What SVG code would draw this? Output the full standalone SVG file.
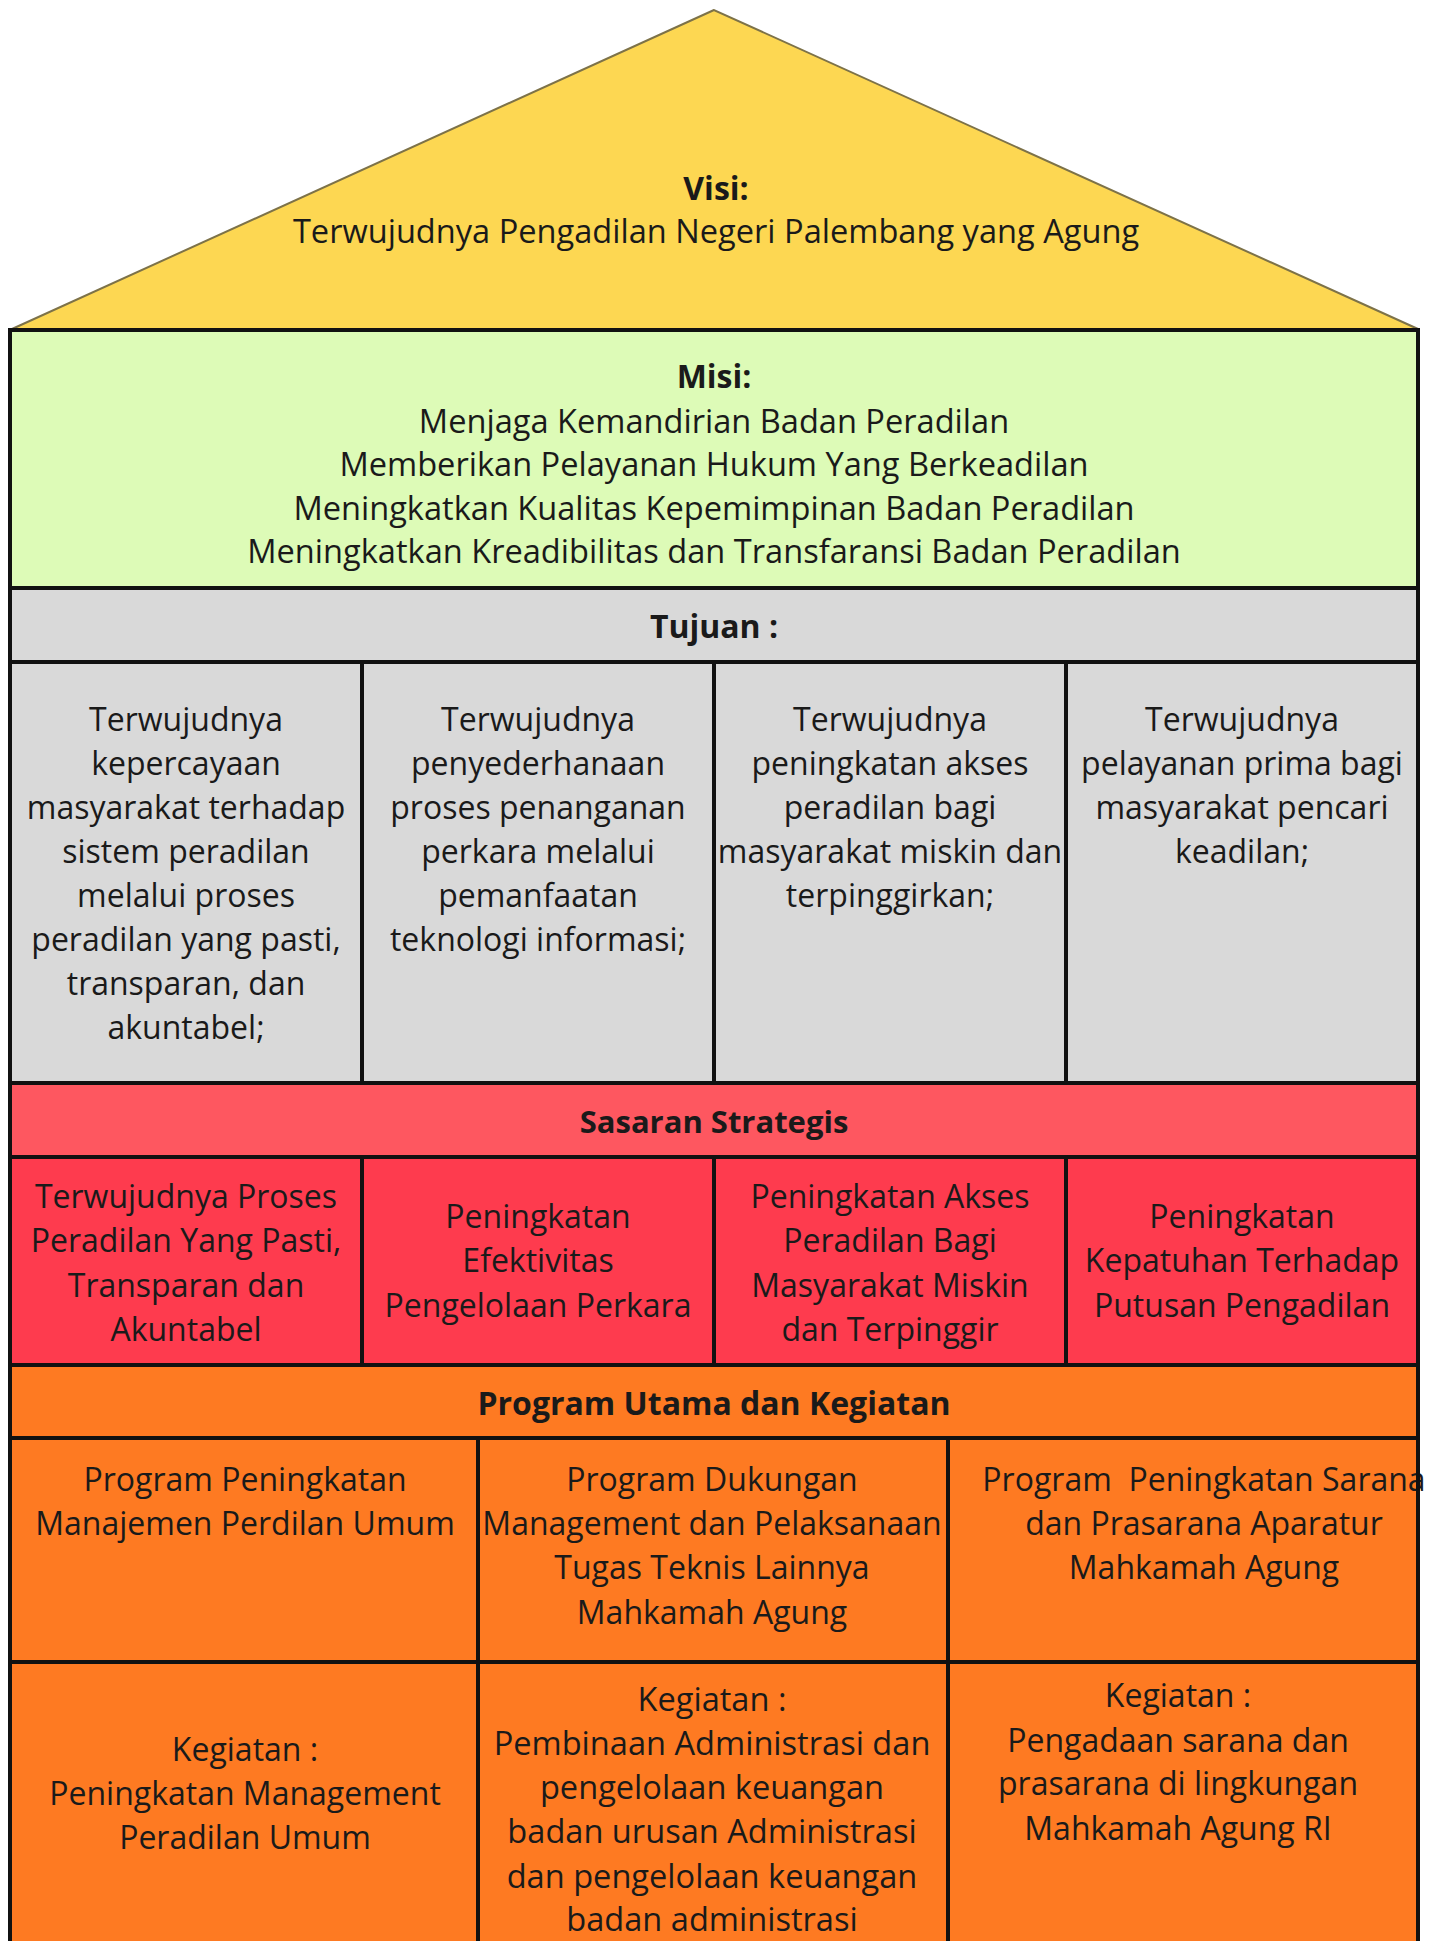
<svg xmlns="http://www.w3.org/2000/svg" width="1437" height="1941" viewBox="0 0 1437 1941">
<style>
text{font-family:"Open Sans","Noto Sans","Liberation Sans",sans-serif;font-size:32px;fill:#1a1a1a;text-anchor:middle}
.b{font-weight:700}
.w{font-size:32.6px}
.ln{stroke:#111;stroke-width:4;fill:none}
</style>
<rect x="0" y="0" width="1437" height="1941" fill="#ffffff"/>
<g id="visi">
<polygon points="714,10 12,329 1418,329" fill="#FDD752" stroke="#7d7248" stroke-width="2"/>
<text class="b" x="716" y="200">Visi:</text>
<text class="w" x="716" y="243">Terwujudnya Pengadilan Negeri Palembang yang Agung</text>
</g>
<g id="misi">
<rect x="10" y="330" width="1408" height="258" fill="#DDFBB7"/>
<text class="b" x="714" y="388">Misi:</text>
<text class="w" x="714" y="433">Menjaga Kemandirian Badan Peradilan</text>
<text class="w" x="714" y="476">Memberikan Pelayanan Hukum Yang Berkeadilan</text>
<text class="w" x="714" y="520">Meningkatkan Kualitas Kepemimpinan Badan Peradilan</text>
<text class="w" x="714" y="563">Meningkatkan Kreadibilitas dan Transfaransi Badan Peradilan</text>
</g>
<g id="tujuan-header">
<rect x="10" y="588" width="1408" height="74" fill="#D9D9D9"/>
<text class="b" x="714" y="638">Tujuan :</text>
</g>
<g id="tujuan-1">
<rect x="10" y="662" width="352" height="421" fill="#D9D9D9"/>
<text x="186" y="731">Terwujudnya</text>
<text x="186" y="775">kepercayaan</text>
<text x="186" y="819">masyarakat terhadap</text>
<text x="186" y="863">sistem peradilan</text>
<text x="186" y="907">melalui proses</text>
<text x="186" y="951">peradilan yang pasti,</text>
<text x="186" y="995">transparan, dan</text>
<text x="186" y="1039">akuntabel;</text>
</g>
<g id="tujuan-2">
<rect x="362" y="662" width="352" height="421" fill="#D9D9D9"/>
<text x="538" y="731">Terwujudnya</text>
<text x="538" y="775">penyederhanaan</text>
<text x="538" y="819">proses penanganan</text>
<text x="538" y="863">perkara melalui</text>
<text x="538" y="907">pemanfaatan</text>
<text x="538" y="951">teknologi informasi;</text>
</g>
<g id="tujuan-3">
<rect x="714" y="662" width="352" height="421" fill="#D9D9D9"/>
<text x="890" y="731">Terwujudnya</text>
<text x="890" y="775">peningkatan akses</text>
<text x="890" y="819">peradilan bagi</text>
<text x="890" y="863">masyarakat miskin dan</text>
<text x="890" y="907">terpinggirkan;</text>
</g>
<g id="tujuan-4">
<rect x="1066" y="662" width="352" height="421" fill="#D9D9D9"/>
<text x="1242" y="731">Terwujudnya</text>
<text x="1242" y="775">pelayanan prima bagi</text>
<text x="1242" y="819">masyarakat pencari</text>
<text x="1242" y="863">keadilan;</text>
</g>
<g id="sasaran-header">
<rect x="10" y="1083" width="1408" height="74" fill="#FE5760"/>
<text class="b" x="714" y="1133" style="font-size:31px">Sasaran Strategis</text>
</g>
<g id="sasaran-1">
<rect x="10" y="1157" width="352" height="208" fill="#FE3B4E"/>
<text x="186" y="1208">Terwujudnya Proses</text>
<text x="186" y="1252">Peradilan Yang Pasti,</text>
<text x="186" y="1297">Transparan dan</text>
<text x="186" y="1341">Akuntabel</text>
</g>
<g id="sasaran-2">
<rect x="362" y="1157" width="352" height="208" fill="#FE3B4E"/>
<text x="538" y="1228">Peningkatan</text>
<text x="538" y="1272">Efektivitas</text>
<text x="538" y="1317">Pengelolaan Perkara</text>
</g>
<g id="sasaran-3">
<rect x="714" y="1157" width="352" height="208" fill="#FE3B4E"/>
<text x="890" y="1208">Peningkatan Akses</text>
<text x="890" y="1252">Peradilan Bagi</text>
<text x="890" y="1297">Masyarakat Miskin</text>
<text x="890" y="1341">dan Terpinggir</text>
</g>
<g id="sasaran-4">
<rect x="1066" y="1157" width="352" height="208" fill="#FE3B4E"/>
<text x="1242" y="1228">Peningkatan</text>
<text x="1242" y="1272">Kepatuhan Terhadap</text>
<text x="1242" y="1317">Putusan Pengadilan</text>
</g>
<g id="program-header">
<rect x="10" y="1365" width="1408" height="73" fill="#FE7A22"/>
<text class="b" x="714" y="1415">Program Utama dan Kegiatan</text>
</g>
<g id="program-1">
<rect x="10" y="1438" width="468" height="224" fill="#FE7A22"/>
<text x="245" y="1491">Program Peningkatan</text>
<text x="245" y="1535">Manajemen Perdilan Umum</text>
</g>
<g id="program-2">
<rect x="478" y="1438" width="470" height="224" fill="#FE7A22"/>
<text x="712" y="1491">Program Dukungan</text>
<text x="712" y="1535">Management dan Pelaksanaan</text>
<text x="712" y="1579">Tugas Teknis Lainnya</text>
<text x="712" y="1624">Mahkamah Agung</text>
</g>
<g id="program-3">
<rect x="948" y="1438" width="470" height="224" fill="#FE7A22"/>
<text x="1204" y="1491" xml:space="preserve">Program  Peningkatan Sarana</text>
<text x="1204" y="1535">dan Prasarana Aparatur</text>
<text x="1204" y="1579">Mahkamah Agung</text>
</g>
<g id="kegiatan-1">
<rect x="10" y="1662" width="468" height="279" fill="#FE7A22"/>
<text x="245" y="1761">Kegiatan :</text>
<text x="245" y="1805">Peningkatan Management</text>
<text x="245" y="1849">Peradilan Umum</text>
</g>
<g id="kegiatan-2">
<rect x="478" y="1662" width="470" height="279" fill="#FE7A22"/>
<text class="w" x="712" y="1711">Kegiatan :</text>
<text class="w" x="712" y="1755">Pembinaan Administrasi dan</text>
<text class="w" x="712" y="1799">pengelolaan keuangan</text>
<text class="w" x="712" y="1843">badan urusan Administrasi</text>
<text class="w" x="712" y="1888">dan pengelolaan keuangan</text>
<text class="w" x="712" y="1931">badan administrasi</text>
</g>
<g id="kegiatan-3">
<rect x="948" y="1662" width="470" height="279" fill="#FE7A22"/>
<text x="1178" y="1707">Kegiatan :</text>
<text x="1178" y="1752">Pengadaan sarana dan</text>
<text x="1178" y="1795">prasarana di lingkungan</text>
<text x="1178" y="1840">Mahkamah Agung RI</text>
</g>
<g id="connectors">
<path class="ln" d="M10,330 H1418 M10,588 H1418 M10,662 H1418 M10,1083 H1418 M10,1157 H1418 M10,1365 H1418 M10,1438 H1418 M10,1662 H1418"/>
<path class="ln" d="M10,328 V1941 M1418,328 V1941"/>
<path class="ln" d="M362,662 V1083 M714,662 V1083 M1066,662 V1083 M362,1157 V1365 M714,1157 V1365 M1066,1157 V1365"/>
<path class="ln" d="M478,1438 V1941 M948,1438 V1941"/>
</g>
</svg>
